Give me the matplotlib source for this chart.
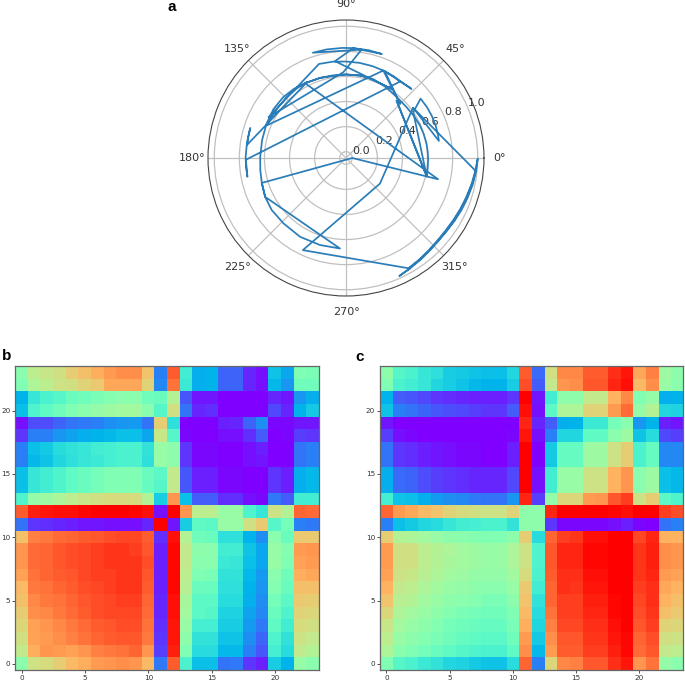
"""Polar trajectory with two recurrence-style heatmaps."""

import matplotlib

matplotlib.use("Agg")
import matplotlib.pyplot as plt
import numpy as np

WIDTH = 685
HEIGHT = 682

theta_deg = [
    36.7, 323, 244.9, 300, 294.3, 300, 306, 312, 318, 324, 330, 336, 342, 348, 354, 359.7,
    354, 348, 342, 336, 330, 324, 318, 312, 306, 300, 306, 312, 318, 324, 330, 340, 350, 354.3,
    36.8, 10.4, 14, 20, 26, 32, 38.5, 34.3, 347.9, 48.7, 347, 353, 359, 5, 10, 17, 23.8, 32, 40, 47, 53.7,
    62, 71, 80, 90, 99, 108, 118.7, 127, 135.8, 146, 156.6, 168, 179.3, 188, 196.5, 205.7,
    266.2, 253.4, 239.8, 226.3, 215, 205.7, 196.5, 0, 347, 118.7, 108, 90, 80, 75.7,
    56.6, 96.5, 86.2, 71, 78, 86.2, 92, 100, 107.5, 81.8, 91.8, 152.2,
    106, 98, 90, 82, 74, 66.9, 60, 54.6, 46.5, 65.9, 45, 66.9, 157.6,
    148, 135, 125, 117.2, 172.5, 168, 162.6, 172.5, 179.4, 185, 190.8, 181, 54.8,
]
radius = [
    0.614, 0.289, 0.761, 0.967, 0.982, 0.968, 0.955, 0.945, 0.940, 0.942, 0.950, 0.960, 0.970, 0.982, 0.992, 1.0,
    0.985, 0.972, 0.958, 0.948, 0.938, 0.932, 0.932, 0.938, 0.948, 0.960, 0.952, 0.942, 0.936, 0.938, 0.945, 0.962, 0.980, 0.989,
    0.618, 0.703, 0.706, 0.710, 0.712, 0.712, 0.710, 0.599, 0.606, 0.560, 0.610, 0.606, 0.605, 0.603, 0.602, 0.598, 0.594, 0.586, 0.580, 0.580, 0.585,
    0.600, 0.615, 0.617, 0.615, 0.617, 0.620, 0.630, 0.640, 0.647, 0.647, 0.640, 0.634, 0.634, 0.640, 0.650, 0.665,
    0.673, 0.674, 0.677, 0.671, 0.673, 0.665, 0.650, 0.0, 0.703, 0.630, 0.622, 0.617, 0.617, 0.615,
    0.610, 0.727, 0.827, 0.827, 0.828, 0.828, 0.828, 0.829, 0.830, 0.823, 0.634, 0.648,
    0.730, 0.725, 0.719, 0.716, 0.712, 0.708, 0.704, 0.700, 0.709, 0.708, 0.560, 0.708, 0.632,
    0.628, 0.628, 0.630, 0.630, 0.746, 0.748, 0.750, 0.748, 0.750, 0.750, 0.750, 0.748, 0.695,
]

r_ticks = [0.0, 0.2, 0.4, 0.6, 0.8, 1.0]
heat_ticks = [0, 5, 10, 15, 20]

# rows run bottom to top, columns left to right
panel_b = [
    [.52, .65, .67, .70, .74, .76, .79, .80, .81, .80, .74, .16, .88, .40, .27, .27, .15, .16, .07, .04, .30, .25, .55, .52],
    [.63, .76, .80, .79, .78, .80, .83, .84, .85, .87, .80, .08, .96, .50, .33, .33, .26, .26, .17, .11, .39, .33, .63, .60],
    [.66, .78, .79, .81, .83, .85, .87, .88, .89, .89, .84, .07, .97, .53, .35, .35, .28, .28, .19, .13, .41, .35, .65, .63],
    [.68, .78, .80, .82, .84, .86, .88, .89, .90, .90, .85, .06, .97, .55, .39, .39, .30, .30, .21, .16, .44, .38, .67, .66],
    [.70, .81, .82, .84, .86, .88, .90, .91, .91, .91, .86, .05, .98, .57, .43, .42, .31, .31, .22, .18, .46, .41, .69, .68],
    [.73, .82, .84, .85, .87, .89, .90, .91, .92, .92, .87, .05, .98, .58, .43, .43, .33, .33, .24, .19, .48, .43, .71, .70],
    [.74, .84, .85, .87, .88, .90, .91, .92, .93, .93, .88, .04, .99, .61, .46, .46, .34, .34, .25, .20, .51, .46, .73, .73],
    [.78, .85, .87, .88, .89, .91, .92, .92, .93, .93, .89, .04, .99, .62, .50, .49, .35, .35, .26, .21, .52, .47, .76, .77],
    [.80, .86, .87, .89, .90, .91, .92, .93, .93, .93, .90, .04, .99, .63, .52, .52, .37, .36, .27, .23, .55, .50, .78, .79],
    [.80, .86, .87, .89, .90, .91, .92, .93, .93, .92, .89, .04, .99, .63, .53, .52, .38, .38, .28, .23, .55, .51, .79, .80],
    [.73, .83, .84, .86, .87, .88, .89, .90, .91, .91, .88, .06, .98, .60, .47, .46, .34, .34, .25, .19, .52, .46, .71, .71],
    [.15, .07, .06, .05, .04, .03, .03, .02, .02, .02, .05, 1.0, .03, .30, .44, .43, .55, .55, .66, .71, .42, .48, .17, .16],
    [.88, .96, .97, .98, .98, .99, 1.0, 1.0, 1.0, .99, .98, .02, 1.0, .80, .62, .62, .55, .55, .41, .36, .65, .60, .87, .86],
    [.41, .54, .56, .59, .62, .64, .66, .67, .67, .67, .60, .30, .80, .27, .12, .12, .06, .06, .02, .01, .16, .12, .38, .38],
    [.27, .36, .38, .41, .44, .46, .48, .50, .50, .50, .45, .42, .63, .11, .04, .04, .01, .01, 0, 0, .07, .04, .24, .26],
    [.27, .36, .38, .41, .44, .46, .48, .50, .50, .50, .46, .43, .63, .11, .04, .04, .01, .01, 0, 0, .07, .04, .24, .26],
    [.17, .26, .28, .32, .34, .36, .37, .39, .40, .40, .34, .55, .53, .07, .01, .01, 0, 0, .02, .03, 0, 0, .15, .17],
    [.17, .27, .29, .33, .35, .36, .38, .39, .40, .40, .35, .55, .53, .07, .01, .01, 0, 0, .02, .04, 0, 0, .15, .17],
    [.07, .17, .17, .20, .22, .24, .25, .26, .27, .27, .23, .64, .42, .01, 0, 0, .02, .02, .06, .12, 0, .01, .08, .07],
    [.02, .10, .10, .13, .15, .16, .17, .19, .20, .21, .15, .70, .34, 0, 0, 0, .04, .05, .13, .19, .01, .01, .03, .03],
    [.27, .41, .44, .47, .50, .52, .54, .56, .57, .57, .52, .42, .66, .15, .05, .06, 0, 0, 0, 0, .09, .05, .25, .29],
    [.25, .36, .40, .42, .46, .47, .49, .51, .52, .52, .47, .46, .60, .11, .03, .03, 0, 0, 0, 0, .05, .03, .20, .24],
    [.50, .59, .62, .65, .66, .69, .71, .77, .77, .77, .69, .18, .85, .37, .24, .25, .13, .13, .05, .02, .26, .20, .47, .47],
    [.52, .62, .64, .66, .70, .73, .76, .79, .81, .81, .72, .17, .88, .38, .24, .25, .13, .13, .05, .02, .28, .23, .50, .49],
]

panel_c = [
    [.50, .42, .40, .37, .35, .32, .31, .29, .28, .28, .33, .87, .17, .68, .82, .83, .89, .89, .94, .97, .80, .85, .54, .52],
    [.59, .52, .50, .48, .46, .44, .42, .41, .40, .40, .44, .81, .26, .79, .88, .88, .92, .92, .96, .99, .86, .89, .63, .62],
    [.62, .55, .53, .51, .49, .47, .45, .44, .43, .43, .47, .79, .29, .81, .89, .89, .93, .93, .97, .99, .87, .90, .66, .65],
    [.64, .57, .55, .53, .51, .48, .47, .46, .45, .45, .49, .76, .32, .83, .91, .91, .94, .94, .98, 1.0, .89, .92, .69, .68],
    [.68, .59, .57, .55, .53, .51, .49, .48, .47, .47, .50, .74, .33, .85, .92, .92, .95, .95, .99, 1.0, .90, .93, .73, .71],
    [.72, .61, .60, .57, .55, .53, .52, .51, .49, .49, .53, .72, .35, .87, .92, .92, .96, .96, .99, 1.0, .91, .94, .75, .73],
    [.75, .63, .62, .59, .57, .55, .54, .53, .52, .52, .55, .71, .38, .87, .94, .93, .97, .97, 1.0, 1.0, .92, .94, .77, .75],
    [.78, .65, .64, .61, .59, .57, .56, .54, .54, .54, .57, .67, .40, .88, .94, .94, .98, .98, 1.0, 1.0, .93, .95, .79, .78],
    [.79, .66, .66, .62, .60, .58, .57, .56, .55, .55, .59, .65, .41, .89, .95, .95, .99, .99, 1.0, 1.0, .93, .96, .81, .80],
    [.79, .66, .66, .62, .60, .59, .57, .56, .55, .55, .59, .65, .41, .89, .95, .95, .99, .99, 1.0, 1.0, .93, .96, .81, .80],
    [.70, .60, .59, .57, .55, .53, .52, .51, .50, .50, .53, .70, .33, .87, .92, .93, .98, .98, 1.0, 1.0, .91, .95, .75, .75],
    [.17, .27, .29, .32, .33, .36, .38, .39, .40, .40, .35, .53, .53, .07, .01, .01, .01, .01, .02, .04, .01, 0, .15, .17],
    [.87, .79, .77, .74, .72, .69, .67, .66, .65, .65, .69, .53, .53, .95, 1.0, 1.0, 1.0, 1.0, .99, .98, 1.0, 1.0, .92, .90],
    [.39, .28, .27, .24, .21, .19, .18, .16, .15, .15, .20, .95, .08, .54, .68, .68, .79, .80, .89, .92, .65, .70, .43, .41],
    [.24, .14, .13, .10, .08, .07, .06, .05, .05, .05, .09, 1.0, .02, .38, .55, .55, .65, .65, .75, .80, .52, .56, .27, .26],
    [.24, .14, .13, .10, .08, .07, .06, .05, .05, .05, .09, 1.0, .02, .38, .55, .55, .65, .65, .75, .80, .52, .56, .27, .26],
    [.15, .07, .06, .04, .03, .02, .01, .01, 0, 0, .04, 1.0, 0, .29, .45, .45, .56, .56, .65, .70, .40, .45, .18, .18],
    [.15, .07, .06, .04, .03, .02, .01, .01, 0, 0, .04, 1.0, 0, .29, .45, .45, .56, .56, .65, .70, .40, .45, .18, .18],
    [.08, .02, .01, 0, 0, 0, 0, 0, 0, 0, .01, .97, .02, .17, .32, .32, .44, .44, .52, .56, .28, .33, .09, .08],
    [.03, 0, 0, 0, 0, 0, 0, 0, 0, 0, 0, .95, .05, .12, .24, .25, .37, .37, .48, .52, .20, .25, .04, .03],
    [.28, .17, .15, .13, .11, .10, .09, .08, .07, .07, .12, .98, .02, .43, .59, .59, .69, .69, .79, .86, .54, .60, .32, .31],
    [.25, .12, .11, .09, .07, .06, .05, .04, .04, .04, .07, 1.0, .03, .38, .53, .53, .63, .63, .75, .82, .50, .54, .24, .25],
    [.50, .40, .38, .36, .32, .30, .28, .26, .25, .25, .30, .90, .12, .63, .80, .81, .89, .89, .95, .98, .74, .81, .55, .52],
    [.53, .42, .40, .36, .34, .30, .29, .28, .27, .27, .32, .88, .14, .66, .82, .82, .88, .88, .94, .97, .77, .83, .56, .53],
]


def _axes_box(left: float, top: float, width: float, height: float) -> list[float]:
    # pixel box from the top-left corner, turned into figure fractions
    return [left / WIDTH, 1 - (top + height) / HEIGHT, width / WIDTH, height / HEIGHT]


def _draw_heatmap(fig: plt.Figure, values: list[list[float]], box: list[float]) -> None:
    ax = fig.add_axes(box)
    ax.imshow(np.array(values), cmap="rainbow", origin="lower", vmin=0, vmax=1, aspect="auto", interpolation="nearest")
    ax.set_xticks(heat_ticks)
    ax.set_yticks(heat_ticks)
    ax.tick_params(labelsize=5.2, length=2, width=0.6, pad=1.5, colors="#333333")
    for spine in ax.spines.values():
        spine.set_color("#666666")
        spine.set_linewidth(0.9)


fig = plt.figure(figsize=(WIDTH / 100, HEIGHT / 100), dpi=100)

ax_polar = fig.add_axes(_axes_box(208, 20, 276, 276), projection="polar")
ax_polar.plot(np.radians(theta_deg), radius, color="#2a7db8", linewidth=1.25)
ax_polar.set_rlim(-0.05, 1.05)
ax_polar.set_rticks(r_ticks)
ax_polar.tick_params(labelsize=8, colors="#333333", pad=1)
ax_polar.grid(color="#c0c0c0", linewidth=0.9)
ax_polar.spines["polar"].set_color("#444444")
ax_polar.spines["polar"].set_linewidth(0.8)

_draw_heatmap(fig, panel_b, _axes_box(15.3, 366.3, 304, 304))
_draw_heatmap(fig, panel_c, _axes_box(380, 366.3, 303.3, 304))

fig.text(167 / WIDTH, 1 - 7 / HEIGHT, "a", fontsize=11, fontweight="bold", family="Liberation Sans", va="center")
fig.text(2 / WIDTH, 1 - 356 / HEIGHT, "b", fontsize=11, fontweight="bold", family="Liberation Sans", va="center")
fig.text(355 / WIDTH, 1 - 357 / HEIGHT, "c", fontsize=11, fontweight="bold", family="Liberation Sans", va="center")

fig.savefig("out.png", dpi=100)
plt.close(fig)
